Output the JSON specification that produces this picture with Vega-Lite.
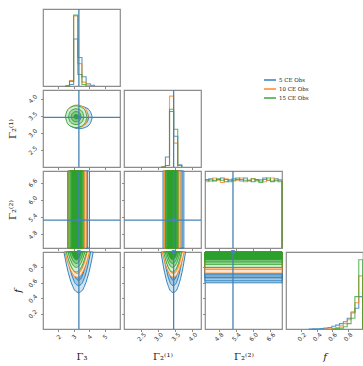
{
"$schema": "https://vega.github.io/schema/vega-lite/v6.json",
"autosize": {"type": "none"},
"padding": {"left": 43, "top": 9, "right": 320, "bottom": 357},
"background": "white",
"columns": 4,
"spacing": 4,
"bounds": "flush",
"datasets": {
"truth": [{"g3": 3.33, "g21": 3.45, "g22": 5.3, "f": 1.0}],
"blank": [{"n": 0}],
"hist": [
{"p":"g3","s":"5 CE Obs","x":2.45,"h":0},{"p":"g3","s":"5 CE Obs","x":2.72,"h":0.02},{"p":"g3","s":"5 CE Obs","x":2.99,"h":0.61},{"p":"g3","s":"5 CE Obs","x":3.26,"h":0.37},{"p":"g3","s":"5 CE Obs","x":3.53,"h":0.12},{"p":"g3","s":"5 CE Obs","x":3.80,"h":0.03},{"p":"g3","s":"5 CE Obs","x":4.07,"h":0.01},{"p":"g3","s":"5 CE Obs","x":4.34,"h":0},
{"p":"g3","s":"10 CE Obs","x":2.45,"h":0},{"p":"g3","s":"10 CE Obs","x":2.72,"h":0.07},{"p":"g3","s":"10 CE Obs","x":2.99,"h":0.91},{"p":"g3","s":"10 CE Obs","x":3.26,"h":0.29},{"p":"g3","s":"10 CE Obs","x":3.53,"h":0.05},{"p":"g3","s":"10 CE Obs","x":3.80,"h":0.01},{"p":"g3","s":"10 CE Obs","x":4.07,"h":0},
{"p":"g3","s":"15 CE Obs","x":2.45,"h":0},{"p":"g3","s":"15 CE Obs","x":2.72,"h":0.06},{"p":"g3","s":"15 CE Obs","x":2.99,"h":0.92},{"p":"g3","s":"15 CE Obs","x":3.26,"h":0.15},{"p":"g3","s":"15 CE Obs","x":3.53,"h":0.02},{"p":"g3","s":"15 CE Obs","x":3.80,"h":0},
{"p":"g21","s":"5 CE Obs","x":3.09,"h":0},{"p":"g21","s":"5 CE Obs","x":3.21,"h":0.13},{"p":"g21","s":"5 CE Obs","x":3.33,"h":0.72},{"p":"g21","s":"5 CE Obs","x":3.45,"h":0.40},{"p":"g21","s":"5 CE Obs","x":3.57,"h":0.03},{"p":"g21","s":"5 CE Obs","x":3.69,"h":0},
{"p":"g21","s":"10 CE Obs","x":3.09,"h":0},{"p":"g21","s":"10 CE Obs","x":3.21,"h":0.02},{"p":"g21","s":"10 CE Obs","x":3.33,"h":0.92},{"p":"g21","s":"10 CE Obs","x":3.45,"h":0.31},{"p":"g21","s":"10 CE Obs","x":3.57,"h":0},
{"p":"g21","s":"15 CE Obs","x":3.09,"h":0},{"p":"g21","s":"15 CE Obs","x":3.21,"h":0.02},{"p":"g21","s":"15 CE Obs","x":3.33,"h":0.75},{"p":"g21","s":"15 CE Obs","x":3.45,"h":0.49},{"p":"g21","s":"15 CE Obs","x":3.57,"h":0.02},{"p":"g21","s":"15 CE Obs","x":3.69,"h":0},
{"p":"g22","s":"5 CE Obs","x":4.330,"h":0.88},{"p":"g22","s":"5 CE Obs","x":4.464,"h":0.90},{"p":"g22","s":"5 CE Obs","x":4.597,"h":0.87},{"p":"g22","s":"5 CE Obs","x":4.731,"h":0.89},{"p":"g22","s":"5 CE Obs","x":4.864,"h":0.91},{"p":"g22","s":"5 CE Obs","x":4.998,"h":0.86},{"p":"g22","s":"5 CE Obs","x":5.131,"h":0.88},{"p":"g22","s":"5 CE Obs","x":5.265,"h":0.90},{"p":"g22","s":"5 CE Obs","x":5.398,"h":0.89},{"p":"g22","s":"5 CE Obs","x":5.532,"h":0.87},{"p":"g22","s":"5 CE Obs","x":5.665,"h":0.91},{"p":"g22","s":"5 CE Obs","x":5.799,"h":0.88},{"p":"g22","s":"5 CE Obs","x":5.932,"h":0.86},{"p":"g22","s":"5 CE Obs","x":6.066,"h":0.89},{"p":"g22","s":"5 CE Obs","x":6.199,"h":0.87},{"p":"g22","s":"5 CE Obs","x":6.333,"h":0.91},{"p":"g22","s":"5 CE Obs","x":6.466,"h":0.88},{"p":"g22","s":"5 CE Obs","x":6.600,"h":0.86},{"p":"g22","s":"5 CE Obs","x":6.733,"h":0.90},{"p":"g22","s":"5 CE Obs","x":6.867,"h":0.88},{"p":"g22","s":"5 CE Obs","x":7.0,"h":0},
{"p":"g22","s":"10 CE Obs","x":4.330,"h":0.86},{"p":"g22","s":"10 CE Obs","x":4.464,"h":0.89},{"p":"g22","s":"10 CE Obs","x":4.597,"h":0.91},{"p":"g22","s":"10 CE Obs","x":4.731,"h":0.88},{"p":"g22","s":"10 CE Obs","x":4.864,"h":0.85},{"p":"g22","s":"10 CE Obs","x":4.998,"h":0.90},{"p":"g22","s":"10 CE Obs","x":5.131,"h":0.89},{"p":"g22","s":"10 CE Obs","x":5.265,"h":0.87},{"p":"g22","s":"10 CE Obs","x":5.398,"h":0.88},{"p":"g22","s":"10 CE Obs","x":5.532,"h":0.91},{"p":"g22","s":"10 CE Obs","x":5.665,"h":0.86},{"p":"g22","s":"10 CE Obs","x":5.799,"h":0.88},{"p":"g22","s":"10 CE Obs","x":5.932,"h":0.90},{"p":"g22","s":"10 CE Obs","x":6.066,"h":0.87},{"p":"g22","s":"10 CE Obs","x":6.199,"h":0.89},{"p":"g22","s":"10 CE Obs","x":6.333,"h":0.86},{"p":"g22","s":"10 CE Obs","x":6.466,"h":0.88},{"p":"g22","s":"10 CE Obs","x":6.600,"h":0.91},{"p":"g22","s":"10 CE Obs","x":6.733,"h":0.87},{"p":"g22","s":"10 CE Obs","x":6.867,"h":0.89},{"p":"g22","s":"10 CE Obs","x":7.0,"h":0},
{"p":"g22","s":"15 CE Obs","x":4.330,"h":0.89},{"p":"g22","s":"15 CE Obs","x":4.464,"h":0.87},{"p":"g22","s":"15 CE Obs","x":4.597,"h":0.88},{"p":"g22","s":"15 CE Obs","x":4.731,"h":0.90},{"p":"g22","s":"15 CE Obs","x":4.864,"h":0.88},{"p":"g22","s":"15 CE Obs","x":4.998,"h":0.89},{"p":"g22","s":"15 CE Obs","x":5.131,"h":0.86},{"p":"g22","s":"15 CE Obs","x":5.265,"h":0.88},{"p":"g22","s":"15 CE Obs","x":5.398,"h":0.91},{"p":"g22","s":"15 CE Obs","x":5.532,"h":0.89},{"p":"g22","s":"15 CE Obs","x":5.665,"h":0.88},{"p":"g22","s":"15 CE Obs","x":5.799,"h":0.87},{"p":"g22","s":"15 CE Obs","x":5.932,"h":0.90},{"p":"g22","s":"15 CE Obs","x":6.066,"h":0.88},{"p":"g22","s":"15 CE Obs","x":6.199,"h":0.85},{"p":"g22","s":"15 CE Obs","x":6.333,"h":0.89},{"p":"g22","s":"15 CE Obs","x":6.466,"h":0.91},{"p":"g22","s":"15 CE Obs","x":6.600,"h":0.87},{"p":"g22","s":"15 CE Obs","x":6.733,"h":0.88},{"p":"g22","s":"15 CE Obs","x":6.867,"h":0.86},{"p":"g22","s":"15 CE Obs","x":7.0,"h":0},
{"p":"f","s":"5 CE Obs","x":0.295,"h":0},{"p":"f","s":"5 CE Obs","x":0.345,"h":0.002},{"p":"f","s":"5 CE Obs","x":0.395,"h":0.004},{"p":"f","s":"5 CE Obs","x":0.445,"h":0.007},{"p":"f","s":"5 CE Obs","x":0.495,"h":0.012},{"p":"f","s":"5 CE Obs","x":0.545,"h":0.02},{"p":"f","s":"5 CE Obs","x":0.595,"h":0.035},{"p":"f","s":"5 CE Obs","x":0.645,"h":0.05},{"p":"f","s":"5 CE Obs","x":0.695,"h":0.07},{"p":"f","s":"5 CE Obs","x":0.745,"h":0.095},{"p":"f","s":"5 CE Obs","x":0.795,"h":0.14},{"p":"f","s":"5 CE Obs","x":0.845,"h":0.22},{"p":"f","s":"5 CE Obs","x":0.895,"h":0.27},{"p":"f","s":"5 CE Obs","x":0.945,"h":0.42},{"p":"f","s":"5 CE Obs","x":0.995,"h":0},
{"p":"f","s":"10 CE Obs","x":0.495,"h":0},{"p":"f","s":"10 CE Obs","x":0.545,"h":0.004},{"p":"f","s":"10 CE Obs","x":0.595,"h":0.01},{"p":"f","s":"10 CE Obs","x":0.645,"h":0.02},{"p":"f","s":"10 CE Obs","x":0.695,"h":0.04},{"p":"f","s":"10 CE Obs","x":0.745,"h":0.07},{"p":"f","s":"10 CE Obs","x":0.795,"h":0.12},{"p":"f","s":"10 CE Obs","x":0.845,"h":0.21},{"p":"f","s":"10 CE Obs","x":0.895,"h":0.34},{"p":"f","s":"10 CE Obs","x":0.945,"h":0.69},{"p":"f","s":"10 CE Obs","x":0.995,"h":0},
{"p":"f","s":"15 CE Obs","x":0.595,"h":0},{"p":"f","s":"15 CE Obs","x":0.645,"h":0.005},{"p":"f","s":"15 CE Obs","x":0.695,"h":0.012},{"p":"f","s":"15 CE Obs","x":0.745,"h":0.03},{"p":"f","s":"15 CE Obs","x":0.795,"h":0.07},{"p":"f","s":"15 CE Obs","x":0.845,"h":0.14},{"p":"f","s":"15 CE Obs","x":0.895,"h":0.42},{"p":"f","s":"15 CE Obs","x":0.945,"h":0.90},{"p":"f","s":"15 CE Obs","x":0.995,"h":0}
],
"ell": [
{"s":"5 CE Obs","b":"5/0","x":2.50,"y1":3.45,"y2":3.45},{"s":"5 CE Obs","b":"5/0","x":2.63,"y1":3.276,"y2":3.624},{"s":"5 CE Obs","b":"5/0","x":2.93,"y1":3.164,"y2":3.736},{"s":"5 CE Obs","b":"5/0","x":3.35,"y1":3.12,"y2":3.78},{"s":"5 CE Obs","b":"5/0","x":3.78,"y1":3.164,"y2":3.736},{"s":"5 CE Obs","b":"5/0","x":4.07,"y1":3.276,"y2":3.624},{"s":"5 CE Obs","b":"5/0","x":4.20,"y1":3.45,"y2":3.45},
{"s":"5 CE Obs","b":"5/1","x":2.73,"y1":3.45,"y2":3.45},{"s":"5 CE Obs","b":"5/1","x":2.82,"y1":3.324,"y2":3.576},{"s":"5 CE Obs","b":"5/1","x":3.04,"y1":3.242,"y2":3.658},{"s":"5 CE Obs","b":"5/1","x":3.35,"y1":3.21,"y2":3.69},{"s":"5 CE Obs","b":"5/1","x":3.66,"y1":3.242,"y2":3.658},{"s":"5 CE Obs","b":"5/1","x":3.88,"y1":3.324,"y2":3.576},{"s":"5 CE Obs","b":"5/1","x":3.97,"y1":3.45,"y2":3.45},
{"s":"5 CE Obs","b":"5/2","x":2.95,"y1":3.45,"y2":3.45},{"s":"5 CE Obs","b":"5/2","x":3.01,"y1":3.366,"y2":3.534},{"s":"5 CE Obs","b":"5/2","x":3.15,"y1":3.311,"y2":3.589},{"s":"5 CE Obs","b":"5/2","x":3.35,"y1":3.29,"y2":3.61},{"s":"5 CE Obs","b":"5/2","x":3.55,"y1":3.311,"y2":3.589},{"s":"5 CE Obs","b":"5/2","x":3.69,"y1":3.366,"y2":3.534},{"s":"5 CE Obs","b":"5/2","x":3.75,"y1":3.45,"y2":3.45},
{"s":"5 CE Obs","b":"5/3","x":3.17,"y1":3.45,"y2":3.45},{"s":"5 CE Obs","b":"5/3","x":3.20,"y1":3.413,"y2":3.487},{"s":"5 CE Obs","b":"5/3","x":3.26,"y1":3.389,"y2":3.511},{"s":"5 CE Obs","b":"5/3","x":3.35,"y1":3.38,"y2":3.52},{"s":"5 CE Obs","b":"5/3","x":3.44,"y1":3.389,"y2":3.511},{"s":"5 CE Obs","b":"5/3","x":3.50,"y1":3.413,"y2":3.487},{"s":"5 CE Obs","b":"5/3","x":3.53,"y1":3.45,"y2":3.45},
{"s":"10 CE Obs","b":"10/0","x":2.50,"y1":3.48,"y2":3.48},{"s":"10 CE Obs","b":"10/0","x":2.61,"y1":3.306,"y2":3.654},{"s":"10 CE Obs","b":"10/0","x":2.86,"y1":3.194,"y2":3.766},{"s":"10 CE Obs","b":"10/0","x":3.22,"y1":3.15,"y2":3.81},{"s":"10 CE Obs","b":"10/0","x":3.58,"y1":3.194,"y2":3.766},{"s":"10 CE Obs","b":"10/0","x":3.83,"y1":3.306,"y2":3.654},{"s":"10 CE Obs","b":"10/0","x":3.94,"y1":3.48,"y2":3.48},
{"s":"10 CE Obs","b":"10/1","x":2.70,"y1":3.48,"y2":3.48},{"s":"10 CE Obs","b":"10/1","x":2.78,"y1":3.354,"y2":3.606},{"s":"10 CE Obs","b":"10/1","x":2.96,"y1":3.272,"y2":3.688},{"s":"10 CE Obs","b":"10/1","x":3.22,"y1":3.24,"y2":3.72},{"s":"10 CE Obs","b":"10/1","x":3.48,"y1":3.272,"y2":3.688},{"s":"10 CE Obs","b":"10/1","x":3.66,"y1":3.354,"y2":3.606},{"s":"10 CE Obs","b":"10/1","x":3.74,"y1":3.48,"y2":3.48},
{"s":"10 CE Obs","b":"10/2","x":2.88,"y1":3.48,"y2":3.48},{"s":"10 CE Obs","b":"10/2","x":2.93,"y1":3.401,"y2":3.559},{"s":"10 CE Obs","b":"10/2","x":3.05,"y1":3.35,"y2":3.61},{"s":"10 CE Obs","b":"10/2","x":3.22,"y1":3.33,"y2":3.63},{"s":"10 CE Obs","b":"10/2","x":3.39,"y1":3.35,"y2":3.61},{"s":"10 CE Obs","b":"10/2","x":3.51,"y1":3.401,"y2":3.559},{"s":"10 CE Obs","b":"10/2","x":3.56,"y1":3.48,"y2":3.48},
{"s":"10 CE Obs","b":"10/3","x":3.07,"y1":3.48,"y2":3.48},{"s":"10 CE Obs","b":"10/3","x":3.09,"y1":3.443,"y2":3.517},{"s":"10 CE Obs","b":"10/3","x":3.15,"y1":3.419,"y2":3.541},{"s":"10 CE Obs","b":"10/3","x":3.22,"y1":3.41,"y2":3.55},{"s":"10 CE Obs","b":"10/3","x":3.30,"y1":3.419,"y2":3.541},{"s":"10 CE Obs","b":"10/3","x":3.35,"y1":3.443,"y2":3.517},{"s":"10 CE Obs","b":"10/3","x":3.37,"y1":3.48,"y2":3.48},
{"s":"15 CE Obs","b":"15/0","x":2.45,"y1":3.47,"y2":3.47},{"s":"15 CE Obs","b":"15/0","x":2.56,"y1":3.301,"y2":3.639},{"s":"15 CE Obs","b":"15/0","x":2.80,"y1":3.193,"y2":3.747},{"s":"15 CE Obs","b":"15/0","x":3.15,"y1":3.15,"y2":3.79},{"s":"15 CE Obs","b":"15/0","x":3.50,"y1":3.193,"y2":3.747},{"s":"15 CE Obs","b":"15/0","x":3.75,"y1":3.301,"y2":3.639},{"s":"15 CE Obs","b":"15/0","x":3.85,"y1":3.47,"y2":3.47},
{"s":"15 CE Obs","b":"15/1","x":2.65,"y1":3.47,"y2":3.47},{"s":"15 CE Obs","b":"15/1","x":2.73,"y1":3.349,"y2":3.591},{"s":"15 CE Obs","b":"15/1","x":2.90,"y1":3.271,"y2":3.669},{"s":"15 CE Obs","b":"15/1","x":3.15,"y1":3.24,"y2":3.70},{"s":"15 CE Obs","b":"15/1","x":3.40,"y1":3.271,"y2":3.669},{"s":"15 CE Obs","b":"15/1","x":3.58,"y1":3.349,"y2":3.591},{"s":"15 CE Obs","b":"15/1","x":3.65,"y1":3.47,"y2":3.47},
{"s":"15 CE Obs","b":"15/2","x":2.83,"y1":3.47,"y2":3.47},{"s":"15 CE Obs","b":"15/2","x":2.88,"y1":3.391,"y2":3.549},{"s":"15 CE Obs","b":"15/2","x":2.99,"y1":3.34,"y2":3.60},{"s":"15 CE Obs","b":"15/2","x":3.15,"y1":3.32,"y2":3.62},{"s":"15 CE Obs","b":"15/2","x":3.31,"y1":3.34,"y2":3.60},{"s":"15 CE Obs","b":"15/2","x":3.42,"y1":3.391,"y2":3.549},{"s":"15 CE Obs","b":"15/2","x":3.47,"y1":3.47,"y2":3.47},
{"s":"15 CE Obs","b":"15/3","x":3.01,"y1":3.47,"y2":3.47},{"s":"15 CE Obs","b":"15/3","x":3.03,"y1":3.436,"y2":3.504},{"s":"15 CE Obs","b":"15/3","x":3.08,"y1":3.414,"y2":3.526},{"s":"15 CE Obs","b":"15/3","x":3.15,"y1":3.405,"y2":3.535},{"s":"15 CE Obs","b":"15/3","x":3.22,"y1":3.414,"y2":3.526},{"s":"15 CE Obs","b":"15/3","x":3.27,"y1":3.436,"y2":3.504},{"s":"15 CE Obs","b":"15/3","x":3.29,"y1":3.47,"y2":3.47}
],
"vb": [
{"p":"g3","s":"5 CE Obs","b":"5/0","x1":2.60,"x2":4.02},{"p":"g3","s":"5 CE Obs","b":"5/1","x1":2.72,"x2":3.88},{"p":"g3","s":"5 CE Obs","b":"5/2","x1":2.86,"x2":3.70},{"p":"g3","s":"5 CE Obs","b":"5/3","x1":3.02,"x2":3.50},
{"p":"g3","s":"10 CE Obs","b":"10/0","x1":2.64,"x2":3.80},{"p":"g3","s":"10 CE Obs","b":"10/1","x1":2.72,"x2":3.68},{"p":"g3","s":"10 CE Obs","b":"10/2","x1":2.80,"x2":3.56},{"p":"g3","s":"10 CE Obs","b":"10/3","x1":2.92,"x2":3.42},
{"p":"g3","s":"15 CE Obs","b":"15/0","x1":2.68,"x2":3.64},{"p":"g3","s":"15 CE Obs","b":"15/1","x1":2.75,"x2":3.56},{"p":"g3","s":"15 CE Obs","b":"15/2","x1":2.81,"x2":3.50},{"p":"g3","s":"15 CE Obs","b":"15/3","x1":2.86,"x2":3.46},
{"p":"g21","s":"5 CE Obs","b":"5/0","x1":3.14,"x2":3.75},{"p":"g21","s":"5 CE Obs","b":"5/1","x1":3.20,"x2":3.70},{"p":"g21","s":"5 CE Obs","b":"5/2","x1":3.27,"x2":3.62},{"p":"g21","s":"5 CE Obs","b":"5/3","x1":3.34,"x2":3.54},
{"p":"g21","s":"10 CE Obs","b":"10/0","x1":3.16,"x2":3.64},{"p":"g21","s":"10 CE Obs","b":"10/1","x1":3.19,"x2":3.60},{"p":"g21","s":"10 CE Obs","b":"10/2","x1":3.24,"x2":3.55},{"p":"g21","s":"10 CE Obs","b":"10/3","x1":3.30,"x2":3.50},
{"p":"g21","s":"15 CE Obs","b":"15/0","x1":3.21,"x2":3.58},{"p":"g21","s":"15 CE Obs","b":"15/1","x1":3.23,"x2":3.56},{"p":"g21","s":"15 CE Obs","b":"15/2","x1":3.25,"x2":3.54},{"p":"g21","s":"15 CE Obs","b":"15/3","x1":3.27,"x2":3.52}
],
"hb": [
{"s":"5 CE Obs","b":"5/0","y1":0.60,"y2":1.0},{"s":"5 CE Obs","b":"5/1","y1":0.625,"y2":1.0},{"s":"5 CE Obs","b":"5/2","y1":0.665,"y2":1.0},{"s":"5 CE Obs","b":"5/3","y1":0.715,"y2":1.0},
{"s":"10 CE Obs","b":"10/0","y1":0.725,"y2":1.0},{"s":"10 CE Obs","b":"10/1","y1":0.775,"y2":1.0},{"s":"10 CE Obs","b":"10/2","y1":0.83,"y2":1.0},{"s":"10 CE Obs","b":"10/3","y1":0.875,"y2":1.0},
{"s":"15 CE Obs","b":"15/0","y1":0.80,"y2":1.0},{"s":"15 CE Obs","b":"15/1","y1":0.84,"y2":1.0},{"s":"15 CE Obs","b":"15/2","y1":0.87,"y2":1.0},{"s":"15 CE Obs","b":"15/3","y1":0.90,"y2":1.0}
],
"u": [
{"p":"g3","s":"5 CE Obs","b":"5/0","f":0.47,"x1":3.31,"x2":3.31},{"p":"g3","s":"5 CE Obs","b":"5/0","f":0.491,"x1":3.12,"x2":3.50},{"p":"g3","s":"5 CE Obs","b":"5/0","f":0.55,"x1":2.942,"x2":3.678},{"p":"g3","s":"5 CE Obs","b":"5/0","f":0.656,"x1":2.748,"x2":3.872},{"p":"g3","s":"5 CE Obs","b":"5/0","f":0.815,"x1":2.544,"x2":4.076},{"p":"g3","s":"5 CE Obs","b":"5/0","f":1.0,"x1":2.36,"x2":4.26},
{"p":"g3","s":"5 CE Obs","b":"5/1","f":0.56,"x1":3.31,"x2":3.31},{"p":"g3","s":"5 CE Obs","b":"5/1","f":0.578,"x1":3.154,"x2":3.466},{"p":"g3","s":"5 CE Obs","b":"5/1","f":0.626,"x1":3.008,"x2":3.612},{"p":"g3","s":"5 CE Obs","b":"5/1","f":0.714,"x1":2.848,"x2":3.772},{"p":"g3","s":"5 CE Obs","b":"5/1","f":0.846,"x1":2.681,"x2":3.939},{"p":"g3","s":"5 CE Obs","b":"5/1","f":1.0,"x1":2.53,"x2":4.09},
{"p":"g3","s":"5 CE Obs","b":"5/2","f":0.63,"x1":3.31,"x2":3.31},{"p":"g3","s":"5 CE Obs","b":"5/2","f":0.645,"x1":3.19,"x2":3.43},{"p":"g3","s":"5 CE Obs","b":"5/2","f":0.686,"x1":3.078,"x2":3.542},{"p":"g3","s":"5 CE Obs","b":"5/2","f":0.76,"x1":2.955,"x2":3.665},{"p":"g3","s":"5 CE Obs","b":"5/2","f":0.871,"x1":2.826,"x2":3.794},{"p":"g3","s":"5 CE Obs","b":"5/2","f":1.0,"x1":2.71,"x2":3.91},
{"p":"g3","s":"5 CE Obs","b":"5/3","f":0.72,"x1":3.31,"x2":3.31},{"p":"g3","s":"5 CE Obs","b":"5/3","f":0.731,"x1":3.23,"x2":3.39},{"p":"g3","s":"5 CE Obs","b":"5/3","f":0.762,"x1":3.155,"x2":3.465},{"p":"g3","s":"5 CE Obs","b":"5/3","f":0.818,"x1":3.073,"x2":3.547},{"p":"g3","s":"5 CE Obs","b":"5/3","f":0.902,"x1":2.988,"x2":3.632},{"p":"g3","s":"5 CE Obs","b":"5/3","f":1.0,"x1":2.91,"x2":3.71},
{"p":"g3","s":"10 CE Obs","b":"10/0","f":0.67,"x1":3.22,"x2":3.22},{"p":"g3","s":"10 CE Obs","b":"10/0","f":0.683,"x1":3.06,"x2":3.38},{"p":"g3","s":"10 CE Obs","b":"10/0","f":0.72,"x1":2.91,"x2":3.53},{"p":"g3","s":"10 CE Obs","b":"10/0","f":0.786,"x1":2.746,"x2":3.694},{"p":"g3","s":"10 CE Obs","b":"10/0","f":0.885,"x1":2.575,"x2":3.865},{"p":"g3","s":"10 CE Obs","b":"10/0","f":1.0,"x1":2.42,"x2":4.02},
{"p":"g3","s":"10 CE Obs","b":"10/1","f":0.72,"x1":3.22,"x2":3.22},{"p":"g3","s":"10 CE Obs","b":"10/1","f":0.731,"x1":3.09,"x2":3.35},{"p":"g3","s":"10 CE Obs","b":"10/1","f":0.762,"x1":2.968,"x2":3.472},{"p":"g3","s":"10 CE Obs","b":"10/1","f":0.818,"x1":2.835,"x2":3.605},{"p":"g3","s":"10 CE Obs","b":"10/1","f":0.902,"x1":2.696,"x2":3.744},{"p":"g3","s":"10 CE Obs","b":"10/1","f":1.0,"x1":2.57,"x2":3.87},
{"p":"g3","s":"10 CE Obs","b":"10/2","f":0.78,"x1":3.22,"x2":3.22},{"p":"g3","s":"10 CE Obs","b":"10/2","f":0.789,"x1":3.12,"x2":3.32},{"p":"g3","s":"10 CE Obs","b":"10/2","f":0.813,"x1":3.026,"x2":3.414},{"p":"g3","s":"10 CE Obs","b":"10/2","f":0.857,"x1":2.924,"x2":3.516},{"p":"g3","s":"10 CE Obs","b":"10/2","f":0.923,"x1":2.817,"x2":3.623},{"p":"g3","s":"10 CE Obs","b":"10/2","f":1.0,"x1":2.72,"x2":3.72},
{"p":"g3","s":"10 CE Obs","b":"10/3","f":0.85,"x1":3.22,"x2":3.22},{"p":"g3","s":"10 CE Obs","b":"10/3","f":0.856,"x1":3.156,"x2":3.284},{"p":"g3","s":"10 CE Obs","b":"10/3","f":0.873,"x1":3.096,"x2":3.344},{"p":"g3","s":"10 CE Obs","b":"10/3","f":0.903,"x1":3.031,"x2":3.409},{"p":"g3","s":"10 CE Obs","b":"10/3","f":0.948,"x1":2.962,"x2":3.478},{"p":"g3","s":"10 CE Obs","b":"10/3","f":1.0,"x1":2.90,"x2":3.54},
{"p":"g3","s":"15 CE Obs","b":"15/0","f":0.74,"x1":3.17,"x2":3.17},{"p":"g3","s":"15 CE Obs","b":"15/0","f":0.75,"x1":3.038,"x2":3.302},{"p":"g3","s":"15 CE Obs","b":"15/0","f":0.779,"x1":2.915,"x2":3.425},{"p":"g3","s":"15 CE Obs","b":"15/0","f":0.831,"x1":2.779,"x2":3.561},{"p":"g3","s":"15 CE Obs","b":"15/0","f":0.909,"x1":2.638,"x2":3.702},{"p":"g3","s":"15 CE Obs","b":"15/0","f":1.0,"x1":2.51,"x2":3.83},
{"p":"g3","s":"15 CE Obs","b":"15/1","f":0.80,"x1":3.17,"x2":3.17},{"p":"g3","s":"15 CE Obs","b":"15/1","f":0.808,"x1":3.06,"x2":3.28},{"p":"g3","s":"15 CE Obs","b":"15/1","f":0.83,"x1":2.957,"x2":3.383},{"p":"g3","s":"15 CE Obs","b":"15/1","f":0.87,"x1":2.844,"x2":3.496},{"p":"g3","s":"15 CE Obs","b":"15/1","f":0.93,"x1":2.727,"x2":3.613},{"p":"g3","s":"15 CE Obs","b":"15/1","f":1.0,"x1":2.62,"x2":3.72},
{"p":"g3","s":"15 CE Obs","b":"15/2","f":0.85,"x1":3.17,"x2":3.17},{"p":"g3","s":"15 CE Obs","b":"15/2","f":0.856,"x1":3.082,"x2":3.258},{"p":"g3","s":"15 CE Obs","b":"15/2","f":0.873,"x1":3.0,"x2":3.34},{"p":"g3","s":"15 CE Obs","b":"15/2","f":0.903,"x1":2.91,"x2":3.43},{"p":"g3","s":"15 CE Obs","b":"15/2","f":0.948,"x1":2.815,"x2":3.525},{"p":"g3","s":"15 CE Obs","b":"15/2","f":1.0,"x1":2.73,"x2":3.61},
{"p":"g3","s":"15 CE Obs","b":"15/3","f":0.90,"x1":3.17,"x2":3.17},{"p":"g3","s":"15 CE Obs","b":"15/3","f":0.904,"x1":3.104,"x2":3.236},{"p":"g3","s":"15 CE Obs","b":"15/3","f":0.915,"x1":3.042,"x2":3.298},{"p":"g3","s":"15 CE Obs","b":"15/3","f":0.935,"x1":2.975,"x2":3.365},{"p":"g3","s":"15 CE Obs","b":"15/3","f":0.965,"x1":2.904,"x2":3.436},{"p":"g3","s":"15 CE Obs","b":"15/3","f":1.0,"x1":2.84,"x2":3.50},
{"p":"g21","s":"5 CE Obs","b":"5/0","f":0.47,"x1":3.44,"x2":3.44},{"p":"g21","s":"5 CE Obs","b":"5/0","f":0.491,"x1":3.368,"x2":3.512},{"p":"g21","s":"5 CE Obs","b":"5/0","f":0.55,"x1":3.301,"x2":3.579},{"p":"g21","s":"5 CE Obs","b":"5/0","f":0.656,"x1":3.227,"x2":3.653},{"p":"g21","s":"5 CE Obs","b":"5/0","f":0.815,"x1":3.15,"x2":3.73},{"p":"g21","s":"5 CE Obs","b":"5/0","f":1.0,"x1":3.08,"x2":3.80},
{"p":"g21","s":"5 CE Obs","b":"5/1","f":0.56,"x1":3.44,"x2":3.44},{"p":"g21","s":"5 CE Obs","b":"5/1","f":0.578,"x1":3.382,"x2":3.498},{"p":"g21","s":"5 CE Obs","b":"5/1","f":0.626,"x1":3.328,"x2":3.552},{"p":"g21","s":"5 CE Obs","b":"5/1","f":0.714,"x1":3.268,"x2":3.612},{"p":"g21","s":"5 CE Obs","b":"5/1","f":0.846,"x1":3.206,"x2":3.674},{"p":"g21","s":"5 CE Obs","b":"5/1","f":1.0,"x1":3.15,"x2":3.73},
{"p":"g21","s":"5 CE Obs","b":"5/2","f":0.63,"x1":3.44,"x2":3.44},{"p":"g21","s":"5 CE Obs","b":"5/2","f":0.645,"x1":3.396,"x2":3.484},{"p":"g21","s":"5 CE Obs","b":"5/2","f":0.686,"x1":3.355,"x2":3.525},{"p":"g21","s":"5 CE Obs","b":"5/2","f":0.76,"x1":3.31,"x2":3.57},{"p":"g21","s":"5 CE Obs","b":"5/2","f":0.871,"x1":3.263,"x2":3.617},{"p":"g21","s":"5 CE Obs","b":"5/2","f":1.0,"x1":3.22,"x2":3.66},
{"p":"g21","s":"5 CE Obs","b":"5/3","f":0.72,"x1":3.44,"x2":3.44},{"p":"g21","s":"5 CE Obs","b":"5/3","f":0.731,"x1":3.41,"x2":3.47},{"p":"g21","s":"5 CE Obs","b":"5/3","f":0.762,"x1":3.382,"x2":3.498},{"p":"g21","s":"5 CE Obs","b":"5/3","f":0.818,"x1":3.351,"x2":3.529},{"p":"g21","s":"5 CE Obs","b":"5/3","f":0.902,"x1":3.319,"x2":3.561},{"p":"g21","s":"5 CE Obs","b":"5/3","f":1.0,"x1":3.29,"x2":3.59},
{"p":"g21","s":"10 CE Obs","b":"10/0","f":0.67,"x1":3.44,"x2":3.44},{"p":"g21","s":"10 CE Obs","b":"10/0","f":0.683,"x1":3.376,"x2":3.504},{"p":"g21","s":"10 CE Obs","b":"10/0","f":0.72,"x1":3.316,"x2":3.564},{"p":"g21","s":"10 CE Obs","b":"10/0","f":0.786,"x1":3.251,"x2":3.629},{"p":"g21","s":"10 CE Obs","b":"10/0","f":0.885,"x1":3.182,"x2":3.698},{"p":"g21","s":"10 CE Obs","b":"10/0","f":1.0,"x1":3.12,"x2":3.76},
{"p":"g21","s":"10 CE Obs","b":"10/1","f":0.72,"x1":3.44,"x2":3.44},{"p":"g21","s":"10 CE Obs","b":"10/1","f":0.731,"x1":3.388,"x2":3.492},{"p":"g21","s":"10 CE Obs","b":"10/1","f":0.762,"x1":3.339,"x2":3.541},{"p":"g21","s":"10 CE Obs","b":"10/1","f":0.818,"x1":3.286,"x2":3.594},{"p":"g21","s":"10 CE Obs","b":"10/1","f":0.902,"x1":3.23,"x2":3.65},{"p":"g21","s":"10 CE Obs","b":"10/1","f":1.0,"x1":3.18,"x2":3.70},
{"p":"g21","s":"10 CE Obs","b":"10/2","f":0.78,"x1":3.44,"x2":3.44},{"p":"g21","s":"10 CE Obs","b":"10/2","f":0.789,"x1":3.40,"x2":3.48},{"p":"g21","s":"10 CE Obs","b":"10/2","f":0.813,"x1":3.363,"x2":3.517},{"p":"g21","s":"10 CE Obs","b":"10/2","f":0.857,"x1":3.322,"x2":3.558},{"p":"g21","s":"10 CE Obs","b":"10/2","f":0.923,"x1":3.279,"x2":3.601},{"p":"g21","s":"10 CE Obs","b":"10/2","f":1.0,"x1":3.24,"x2":3.64},
{"p":"g21","s":"10 CE Obs","b":"10/3","f":0.85,"x1":3.44,"x2":3.44},{"p":"g21","s":"10 CE Obs","b":"10/3","f":0.856,"x1":3.414,"x2":3.466},{"p":"g21","s":"10 CE Obs","b":"10/3","f":0.873,"x1":3.39,"x2":3.49},{"p":"g21","s":"10 CE Obs","b":"10/3","f":0.903,"x1":3.363,"x2":3.517},{"p":"g21","s":"10 CE Obs","b":"10/3","f":0.948,"x1":3.335,"x2":3.545},{"p":"g21","s":"10 CE Obs","b":"10/3","f":1.0,"x1":3.31,"x2":3.57},
{"p":"g21","s":"15 CE Obs","b":"15/0","f":0.74,"x1":3.42,"x2":3.42},{"p":"g21","s":"15 CE Obs","b":"15/0","f":0.75,"x1":3.368,"x2":3.472},{"p":"g21","s":"15 CE Obs","b":"15/0","f":0.779,"x1":3.319,"x2":3.521},{"p":"g21","s":"15 CE Obs","b":"15/0","f":0.831,"x1":3.266,"x2":3.574},{"p":"g21","s":"15 CE Obs","b":"15/0","f":0.909,"x1":3.21,"x2":3.63},{"p":"g21","s":"15 CE Obs","b":"15/0","f":1.0,"x1":3.16,"x2":3.68},
{"p":"g21","s":"15 CE Obs","b":"15/1","f":0.80,"x1":3.42,"x2":3.42},{"p":"g21","s":"15 CE Obs","b":"15/1","f":0.808,"x1":3.376,"x2":3.464},{"p":"g21","s":"15 CE Obs","b":"15/1","f":0.83,"x1":3.335,"x2":3.505},{"p":"g21","s":"15 CE Obs","b":"15/1","f":0.87,"x1":3.29,"x2":3.55},{"p":"g21","s":"15 CE Obs","b":"15/1","f":0.93,"x1":3.243,"x2":3.597},{"p":"g21","s":"15 CE Obs","b":"15/1","f":1.0,"x1":3.20,"x2":3.64},
{"p":"g21","s":"15 CE Obs","b":"15/2","f":0.85,"x1":3.42,"x2":3.42},{"p":"g21","s":"15 CE Obs","b":"15/2","f":0.856,"x1":3.384,"x2":3.456},{"p":"g21","s":"15 CE Obs","b":"15/2","f":0.873,"x1":3.35,"x2":3.49},{"p":"g21","s":"15 CE Obs","b":"15/2","f":0.903,"x1":3.313,"x2":3.527},{"p":"g21","s":"15 CE Obs","b":"15/2","f":0.948,"x1":3.275,"x2":3.565},{"p":"g21","s":"15 CE Obs","b":"15/2","f":1.0,"x1":3.24,"x2":3.60},
{"p":"g21","s":"15 CE Obs","b":"15/3","f":0.90,"x1":3.42,"x2":3.42},{"p":"g21","s":"15 CE Obs","b":"15/3","f":0.904,"x1":3.392,"x2":3.448},{"p":"g21","s":"15 CE Obs","b":"15/3","f":0.915,"x1":3.366,"x2":3.474},{"p":"g21","s":"15 CE Obs","b":"15/3","f":0.935,"x1":3.337,"x2":3.503},{"p":"g21","s":"15 CE Obs","b":"15/3","f":0.965,"x1":3.307,"x2":3.533},{"p":"g21","s":"15 CE Obs","b":"15/3","f":1.0,"x1":3.28,"x2":3.56}
]
},
"concat": [
 {"width": 77, "height": 77, "resolve": {"axis": {"x": "independent", "y": "independent"}}, "layer": [
  {"data": {"name": "hist"}, "transform": [{"filter": "datum.p === 'g3'"}],
   "mark": {"type": "line", "interpolate": "step-after", "strokeWidth": 1.1, "strokeOpacity": 0.75},
   "encoding": {
    "x": {"field": "x", "type": "quantitative", "scale": {"domain": [1, 6], "nice": false, "zero": false}, "axis": {"values": [2, 3, 4, 5], "labels": false, "title": null}},
    "y": {"field": "h", "type": "quantitative", "scale": {"domain": [0, 1], "nice": false}, "axis": null},
    "stroke": {"field": "s", "type": "nominal", "scale": {"domain": ["5 CE Obs", "10 CE Obs", "15 CE Obs"], "range": ["#1f77b4", "#ff7f0e", "#2ca02c"]},
     "legend": {"orient": "none", "legendX": 222, "legendY": 66, "title": null, "symbolType": "M-1.5,0H1.5", "symbolSize": 64, "symbolStrokeWidth": 1.6, "symbolOpacity": 0.85, "labelFont": "DejaVu Serif", "labelFontSize": 5.5, "labelColor": "#222222", "labelOffset": 4, "rowPadding": 0, "padding": 0}}}},
  {"data": {"name": "truth"}, "mark": {"type": "rule", "color": "#4682b4", "strokeWidth": 1.3},
   "encoding": {"x": {"field": "g3", "type": "quantitative", "axis": null}}}
 ]},
 {"width": 77, "height": 77, "data": {"name": "blank"}, "mark": {"type": "point", "opacity": 0}, "encoding": {}, "view": {"stroke": null}},
 {"width": 77, "height": 77, "data": {"name": "blank"}, "mark": {"type": "point", "opacity": 0}, "encoding": {}, "view": {"stroke": null}},
 {"width": 77, "height": 77, "data": {"name": "blank"}, "mark": {"type": "point", "opacity": 0}, "encoding": {}, "view": {"stroke": null}},
 {"width": 77, "height": 77, "resolve": {"axis": {"x": "independent", "y": "independent"}}, "layer": [
  {"data": {"name": "ell"},
   "mark": {"type": "area", "orient": "vertical", "interpolate": "monotone", "strokeWidth": 0.9, "opacity": 1},
   "encoding": {
    "x": {"field": "x", "type": "quantitative", "scale": {"domain": [1, 6], "nice": false, "zero": false}, "axis": {"values": [2, 3, 4, 5], "labels": false, "title": null}},
    "y": {"field": "y1", "type": "quantitative", "scale": {"domain": [2.0, 4.25], "nice": false, "zero": false}, "axis": {"values": [2.5, 3.0, 3.5, 4.0], "format": ".1f", "labelOverlap": false, "labelAngle": -45, "labelAlign": "center", "labelBaseline": "middle", "labelPadding": 8, "title": "Γ₂⁽¹⁾", "titleX": -31, "titleBaseline": "middle"}},
    "y2": {"field": "y2"},
    "fill": {"field": "b", "type": "nominal", "scale": {"domain": ["5/0","5/1","5/2","5/3","10/0","10/1","10/2","10/3","15/0","15/1","15/2","15/3"], "range": ["#d2e4f0","#a5c9e1","#79add2","#1f77b4","#ffe5cf","#ffcc9f","#ffb26e","#ff7f0e","#d5ecd5","#abd9ab","#80c680","#2ca02c"]}, "legend": null},
    "stroke": {"field": "s", "type": "nominal", "legend": null},
    "detail": {"field": "b"}}},
  {"data": {"name": "truth"}, "mark": {"type": "rule", "color": "#4682b4", "strokeWidth": 1.3},
   "encoding": {"x": {"field": "g3", "type": "quantitative", "axis": null}}},
  {"data": {"name": "truth"}, "mark": {"type": "rule", "color": "#4682b4", "strokeWidth": 1.3},
   "encoding": {"y": {"field": "g21", "type": "quantitative", "axis": null}}},
  {"data": {"name": "truth"}, "mark": {"type": "square", "color": "#4682b4", "size": 14, "opacity": 1},
   "encoding": {"x": {"field": "g3", "type": "quantitative", "axis": null}, "y": {"field": "g21", "type": "quantitative", "axis": null}}}
 ]},
 {"width": 77, "height": 77, "resolve": {"axis": {"x": "independent", "y": "independent"}}, "layer": [
  {"data": {"name": "hist"}, "transform": [{"filter": "datum.p === 'g21'"}],
   "mark": {"type": "line", "interpolate": "step-after", "strokeWidth": 1.1, "strokeOpacity": 0.75},
   "encoding": {
    "x": {"field": "x", "type": "quantitative", "scale": {"domain": [2.0, 4.25], "nice": false, "zero": false}, "axis": {"values": [2.5, 3.0, 3.5, 4.0], "labels": false, "title": null}},
    "y": {"field": "h", "type": "quantitative", "scale": {"domain": [0, 1], "nice": false}, "axis": null},
    "stroke": {"field": "s", "type": "nominal", "legend": null}}},
  {"data": {"name": "truth"}, "mark": {"type": "rule", "color": "#4682b4", "strokeWidth": 1.3},
   "encoding": {"x": {"field": "g21", "type": "quantitative", "axis": null}}}
 ]},
 {"width": 77, "height": 77, "data": {"name": "blank"}, "mark": {"type": "point", "opacity": 0}, "encoding": {}, "view": {"stroke": null}},
 {"width": 77, "height": 77, "data": {"name": "blank"}, "mark": {"type": "point", "opacity": 0}, "encoding": {}, "view": {"stroke": null}},
 {"width": 77, "height": 77, "resolve": {"axis": {"x": "independent", "y": "independent"}}, "layer": [
  {"data": {"name": "vb"}, "transform": [{"filter": "datum.p === 'g3'"}],
   "mark": {"type": "rect", "strokeWidth": 0.9},
   "encoding": {
    "x": {"field": "x1", "type": "quantitative", "scale": {"domain": [1, 6], "nice": false, "zero": false}, "axis": {"values": [2, 3, 4, 5], "labels": false, "title": null}},
    "x2": {"field": "x2"},
    "fill": {"field": "b", "type": "nominal", "legend": null},
    "stroke": {"field": "s", "type": "nominal", "legend": null}}},
  {"data": {"name": "truth"}, "mark": {"type": "rule", "color": "#4682b4", "strokeWidth": 1.3},
   "encoding": {"x": {"field": "g3", "type": "quantitative", "axis": null}}},
  {"data": {"name": "truth"}, "mark": {"type": "rule", "color": "#4682b4", "strokeWidth": 1.3},
   "encoding": {"y": {"field": "g22", "type": "quantitative", "scale": {"domain": [4.33, 7.0], "nice": false, "zero": false}, "axis": {"values": [4.8, 5.4, 6.0, 6.6], "format": ".1f", "labelOverlap": false, "labelAngle": -45, "labelAlign": "center", "labelBaseline": "middle", "labelPadding": 8, "title": "Γ₂⁽²⁾", "titleX": -31, "titleBaseline": "middle"}}}},
  {"data": {"name": "truth"}, "mark": {"type": "square", "color": "#4682b4", "size": 14, "opacity": 1},
   "encoding": {"x": {"field": "g3", "type": "quantitative", "axis": null}, "y": {"field": "g22", "type": "quantitative", "axis": null}}}
 ]},
 {"width": 77, "height": 77, "resolve": {"axis": {"x": "independent", "y": "independent"}}, "layer": [
  {"data": {"name": "vb"}, "transform": [{"filter": "datum.p === 'g21'"}],
   "mark": {"type": "rect", "strokeWidth": 0.9},
   "encoding": {
    "x": {"field": "x1", "type": "quantitative", "scale": {"domain": [2.0, 4.25], "nice": false, "zero": false}, "axis": {"values": [2.5, 3.0, 3.5, 4.0], "labels": false, "title": null}},
    "x2": {"field": "x2"},
    "fill": {"field": "b", "type": "nominal", "legend": null},
    "stroke": {"field": "s", "type": "nominal", "legend": null}}},
  {"data": {"name": "truth"}, "mark": {"type": "rule", "color": "#4682b4", "strokeWidth": 1.3},
   "encoding": {"x": {"field": "g21", "type": "quantitative", "axis": null}}},
  {"data": {"name": "truth"}, "mark": {"type": "rule", "color": "#4682b4", "strokeWidth": 1.3},
   "encoding": {"y": {"field": "g22", "type": "quantitative", "scale": {"domain": [4.33, 7.0], "nice": false, "zero": false}, "axis": {"values": [4.8, 5.4, 6.0, 6.6], "labels": false, "title": null}}}},
  {"data": {"name": "truth"}, "mark": {"type": "square", "color": "#4682b4", "size": 14, "opacity": 1},
   "encoding": {"x": {"field": "g21", "type": "quantitative", "axis": null}, "y": {"field": "g22", "type": "quantitative", "axis": null}}}
 ]},
 {"width": 77, "height": 77, "resolve": {"axis": {"x": "independent", "y": "independent"}}, "layer": [
  {"data": {"name": "hist"}, "transform": [{"filter": "datum.p === 'g22'"}],
   "mark": {"type": "line", "interpolate": "step-after", "strokeWidth": 1.1, "strokeOpacity": 0.75},
   "encoding": {
    "x": {"field": "x", "type": "quantitative", "scale": {"domain": [4.33, 7.0], "nice": false, "zero": false}, "axis": {"values": [4.8, 5.4, 6.0, 6.6], "labels": false, "title": null}},
    "y": {"field": "h", "type": "quantitative", "scale": {"domain": [0, 1], "nice": false}, "axis": null},
    "stroke": {"field": "s", "type": "nominal", "legend": null}}},
  {"data": {"name": "truth"}, "mark": {"type": "rule", "color": "#4682b4", "strokeWidth": 1.3},
   "encoding": {"x": {"field": "g22", "type": "quantitative", "axis": null}}}
 ]},
 {"width": 77, "height": 77, "data": {"name": "blank"}, "mark": {"type": "point", "opacity": 0}, "encoding": {}, "view": {"stroke": null}},
 {"width": 77, "height": 77, "resolve": {"axis": {"x": "independent", "y": "independent"}}, "layer": [
  {"data": {"name": "u"}, "transform": [{"filter": "datum.p === 'g3'"}],
   "mark": {"type": "area", "orient": "horizontal", "interpolate": "monotone", "strokeWidth": 0.9, "opacity": 1},
   "encoding": {
    "y": {"field": "f", "type": "quantitative", "scale": {"domain": [0, 1], "nice": false, "zero": false}, "axis": {"values": [0.2, 0.4, 0.6, 0.8], "format": ".1f", "labelOverlap": false, "labelAngle": -45, "labelAlign": "center", "labelBaseline": "middle", "labelPadding": 8, "title": "f", "titleFontStyle": "italic", "titleX": -26, "titleBaseline": "middle"}},
    "x": {"field": "x1", "type": "quantitative", "scale": {"domain": [1, 6], "nice": false, "zero": false}, "axis": {"values": [2, 3, 4, 5], "format": "d", "labelOverlap": false, "labelAngle": -45, "labelAlign": "center", "labelBaseline": "middle", "labelPadding": 5, "title": "Γ₃", "titleY": 27, "titleBaseline": "middle"}},
    "x2": {"field": "x2"},
    "fill": {"field": "b", "type": "nominal", "legend": null},
    "stroke": {"field": "s", "type": "nominal", "legend": null},
    "detail": {"field": "b"}}},
  {"data": {"name": "truth"}, "mark": {"type": "rule", "color": "#4682b4", "strokeWidth": 1.3},
   "encoding": {"x": {"field": "g3", "type": "quantitative", "axis": null}}},
  {"data": {"name": "truth"}, "mark": {"type": "square", "color": "#4682b4", "size": 14, "opacity": 1},
   "encoding": {"x": {"field": "g3", "type": "quantitative", "axis": null}, "y": {"field": "f", "type": "quantitative", "axis": null}}}
 ]},
 {"width": 77, "height": 77, "resolve": {"axis": {"x": "independent", "y": "independent"}}, "layer": [
  {"data": {"name": "u"}, "transform": [{"filter": "datum.p === 'g21'"}],
   "mark": {"type": "area", "orient": "horizontal", "interpolate": "monotone", "strokeWidth": 0.9, "opacity": 1},
   "encoding": {
    "y": {"field": "f", "type": "quantitative", "scale": {"domain": [0, 1], "nice": false, "zero": false}, "axis": {"values": [0.2, 0.4, 0.6, 0.8], "labels": false, "title": null}},
    "x": {"field": "x1", "type": "quantitative", "scale": {"domain": [2.0, 4.25], "nice": false, "zero": false}, "axis": {"values": [2.5, 3.0, 3.5, 4.0], "format": ".1f", "labelOverlap": false, "labelAngle": -45, "labelAlign": "center", "labelBaseline": "middle", "labelPadding": 5, "title": "Γ₂⁽¹⁾", "titleY": 27, "titleBaseline": "middle"}},
    "x2": {"field": "x2"},
    "fill": {"field": "b", "type": "nominal", "legend": null},
    "stroke": {"field": "s", "type": "nominal", "legend": null},
    "detail": {"field": "b"}}},
  {"data": {"name": "truth"}, "mark": {"type": "rule", "color": "#4682b4", "strokeWidth": 1.3},
   "encoding": {"x": {"field": "g21", "type": "quantitative", "axis": null}}},
  {"data": {"name": "truth"}, "mark": {"type": "square", "color": "#4682b4", "size": 14, "opacity": 1},
   "encoding": {"x": {"field": "g21", "type": "quantitative", "axis": null}, "y": {"field": "f", "type": "quantitative", "axis": null}}}
 ]},
 {"width": 77, "height": 77, "resolve": {"axis": {"x": "independent", "y": "independent"}}, "layer": [
  {"data": {"name": "hb"},
   "mark": {"type": "rect", "strokeWidth": 0.9},
   "encoding": {
    "y": {"field": "y1", "type": "quantitative", "scale": {"domain": [0, 1], "nice": false, "zero": false}, "axis": {"values": [0.2, 0.4, 0.6, 0.8], "labels": false, "title": null}},
    "y2": {"field": "y2"},
    "fill": {"field": "b", "type": "nominal", "legend": null},
    "stroke": {"field": "s", "type": "nominal", "legend": null}}},
  {"data": {"name": "truth"}, "mark": {"type": "rule", "color": "#4682b4", "strokeWidth": 1.3},
   "encoding": {"x": {"field": "g22", "type": "quantitative", "scale": {"domain": [4.33, 7.0], "nice": false, "zero": false}, "axis": {"values": [4.8, 5.4, 6.0, 6.6], "format": ".1f", "labelOverlap": false, "labelAngle": -45, "labelAlign": "center", "labelBaseline": "middle", "labelPadding": 5, "title": "Γ₂⁽²⁾", "titleY": 27, "titleBaseline": "middle"}}}},
  {"data": {"name": "truth"}, "mark": {"type": "square", "color": "#4682b4", "size": 14, "opacity": 1},
   "encoding": {"x": {"field": "g22", "type": "quantitative", "axis": null}, "y": {"field": "f", "type": "quantitative", "axis": null}}}
 ]},
 {"width": 77, "height": 77, "layer": [
  {"data": {"name": "hist"}, "transform": [{"filter": "datum.p === 'f'"}],
   "mark": {"type": "line", "interpolate": "step-after", "strokeWidth": 1.1, "strokeOpacity": 0.75},
   "encoding": {
    "x": {"field": "x", "type": "quantitative", "scale": {"domain": [0, 1], "nice": false, "zero": false}, "axis": {"values": [0.2, 0.4, 0.6, 0.8], "format": ".1f", "labelOverlap": false, "labelAngle": -45, "labelAlign": "center", "labelBaseline": "middle", "labelPadding": 5, "title": "f", "titleFontStyle": "italic", "titleY": 27, "titleBaseline": "middle"}},
    "y": {"field": "h", "type": "quantitative", "scale": {"domain": [0, 1], "nice": false}, "axis": null},
    "stroke": {"field": "s", "type": "nominal", "legend": null}}}
 ]}
],
"config": {
 "view": {"stroke": "#8c8c8c", "strokeWidth": 1.2},
 "axis": {"domain": false, "grid": false, "tickColor": "#8c8c8c", "tickSize": 2.5, "tickWidth": 1, "labelFont": "DejaVu Sans", "labelFontSize": 6, "labelColor": "#333333", "labelFlush": false, "labelOverlap": false, "titleFont": "DejaVu Serif", "titleFontSize": 10, "titleFontWeight": "normal", "titleColor": "#222222"}
}
}
